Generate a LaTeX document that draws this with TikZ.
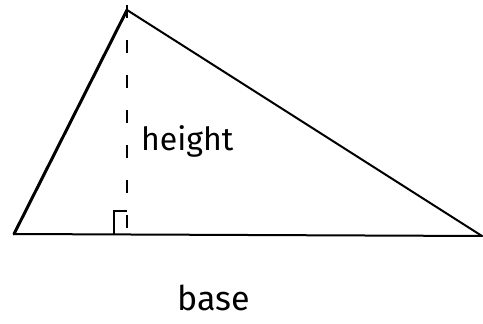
\documentclass[tikz,border=0pt]{standalone}
\usepackage{fontspec}
\setmainfont{Fira Sans}
\begin{document}
\begin{tikzpicture}[x=1pt,y=-1pt,
  edge/.style={line width=2pt,line join=round,line cap=round},
  heightline/.style={line width=2pt,dash pattern=on 13pt off 22pt},
  lbl/.style={inner sep=0pt,font=\fontsize{32}{32}\selectfont}]
\useasboundingbox (0,0) rectangle (483,324);
\coordinate (L) at (14,234);
\coordinate (A) at (127,10);
\coordinate (R) at (482,236);
\coordinate (F) at (127,235);
\draw[edge,line width=3pt] (L) -- (A);
\draw[edge] (A) -- (R);
\draw[edge] (L) -- (R);
\draw[heightline] ([yshift=40]A) -- (F);
\draw[line width=1.8pt] (114,235) -- (114,211) -- (127,211);
\node[lbl,anchor=west] (h) at (141,141) {height};
\node[lbl,font=\fontsize{34}{34}\selectfont] (b) at (214,298) {base};
\end{tikzpicture}
\end{document}
